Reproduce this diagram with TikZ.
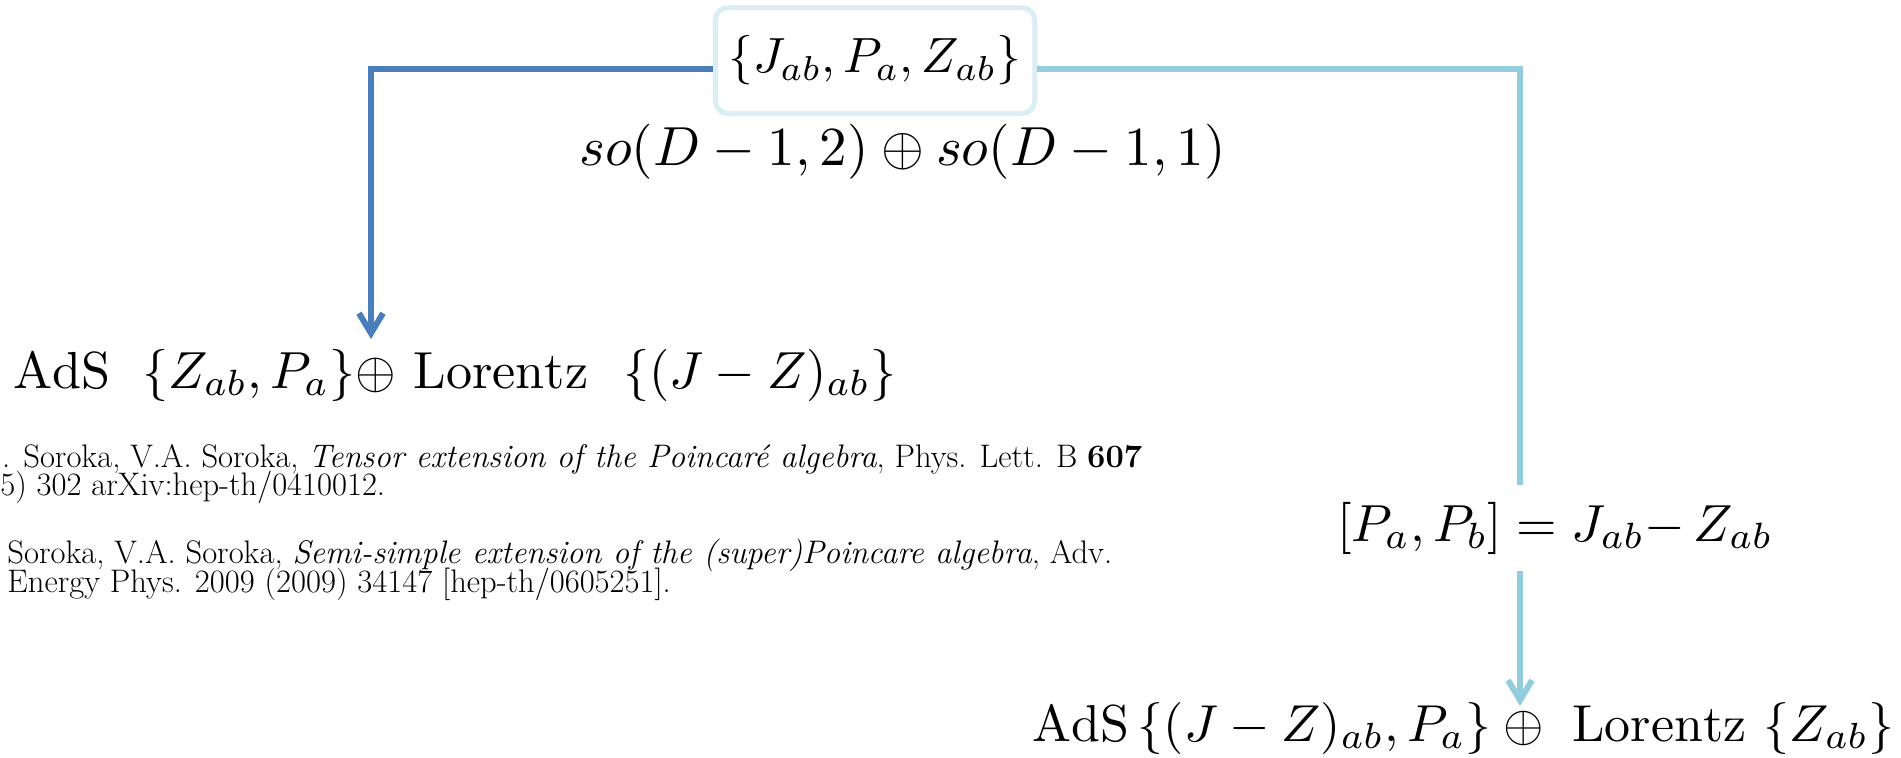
\documentclass[tikz,border=0pt]{standalone}
\usepackage{fontspec}
\usepackage{graphicx}
\usetikzlibrary{arrows.meta,calc}
\definecolor{blueA}{HTML}{4A7EBB}
\definecolor{blueB}{HTML}{93CDDD}
\definecolor{boxB}{HTML}{DAEEF3}
\newcommand{\mthw}[2]{\resizebox{#1}{!}{$#2$}}
\begin{document}
\begin{tikzpicture}[x=0.5pt,y=-0.5pt,
  mathtxt/.style={inner sep=0pt},
  reftxt/.style={font=\fontsize{16.3}{19}\selectfont, inner sep=0pt, anchor=base west},
  topbox/.style={draw=boxB, line width=2.5pt, rounded corners=6.5pt, minimum width=159.75pt, minimum height=53pt, inner sep=0pt},
  connA/.style={draw=blueA, line width=3pt},
  connB/.style={draw=blueB, line width=3pt},
  tipArrow/.style={-{Straight Barb[length=10pt,width=12pt]}}
]
\useasboundingbox (0,0) rectangle (1901,757);
\node[topbox] (top) at (875,60.5) {\mthw{146.5pt}{\{J_{ab},P_a,Z_{ab}\}}};
\node[mathtxt, anchor=base west] (so) at (579,165) {\mthw{323pt}{so(D-1,2)\oplus so(D-1,1)}};
\node[mathtxt, anchor=base west] (adsL) at (13,388) {\mthw{441.5pt}{\mathrm{AdS}\ \;\{Z_{ab},P_a\}{\oplus}\ \mathrm{Lorentz}\ \ \{(J-Z)_{ab}\}}};
\node[mathtxt, minimum height=43pt] (comm) at (1555,528) {\mthw{218pt}{[P_a,P_b]=J_{ab}{-}\,Z_{ab}}};
\node[mathtxt, anchor=base east] (adsR) at (1895,741) {\mthw{431pt}{\mathrm{AdS}\,\{(J-Z)_{ab},P_a\}\oplus\ \mathrm{Lorentz}\ \{Z_{ab}\}}};
\node[reftxt] (r1) at (1.7,467) {. Soroka, V.A. Soroka, \textit{Tensor extension of the Poincar\'e algebra}, Phys. Lett. B \textbf{607}};
\node[reftxt] (r2) at (0,495) {5) 302 arXiv:hep-th/0410012.};
\node[reftxt] (r3) at (7,563) {Soroka, V.A. Soroka, \textit{Semi-simple extension of the (super)Poincare algebra}, Adv.};
\node[reftxt] (r4) at (7,592) {Energy Phys. 2009 (2009) 34147 [hep-th/0605251].};
\coordinate (cL) at (371,69);
\coordinate (tipL) at (371,339);
\coordinate (cR) at (1520,69);
\coordinate (tipR) at (1520,706);
\draw[connA, tipArrow] (top.west |- cL) -| (tipL);
\draw[connB] (top.east |- cR) -| (comm.north -| cR);
\draw[connB, tipArrow] (comm.south -| cR) -- (tipR);
\end{tikzpicture}
\end{document}
